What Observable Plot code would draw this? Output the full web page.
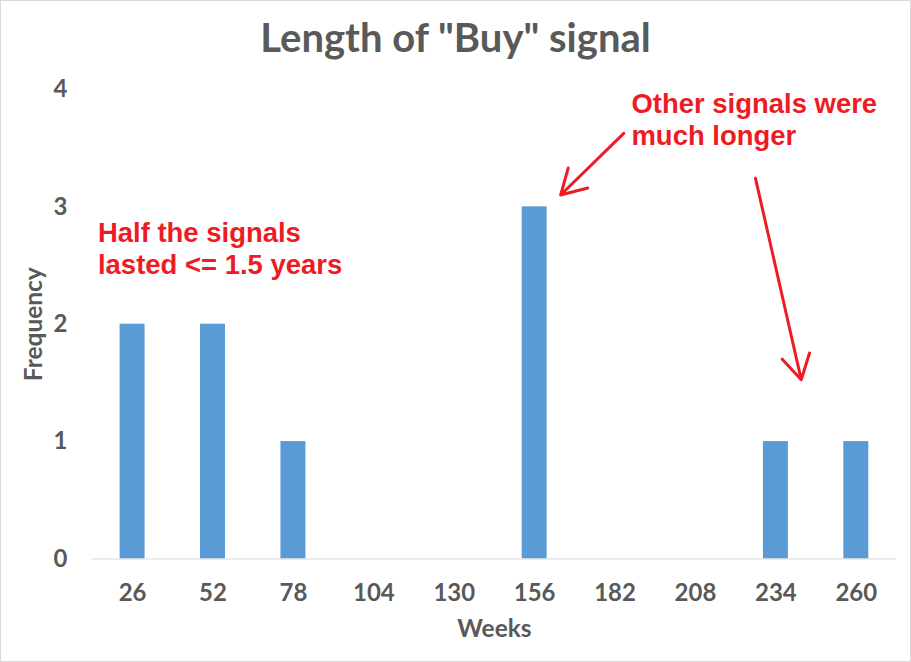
<!DOCTYPE html>
<html>
<head>
<meta charset="utf-8">
<script src="https://cdn.jsdelivr.net/npm/d3@7"></script>
<script src="https://cdn.jsdelivr.net/npm/@observablehq/plot@0.6"></script>
<style>
  html, body { margin: 0; padding: 0; background: #fff; }
  #wrap { position: relative; width: 911px; height: 662px; box-sizing: border-box; border: 1px solid #d9d9d9; background: #fff; overflow: hidden; }
  #title { position: absolute; left: 0; top: 11px; width: 100%; text-align: center; font: bold 40px Lato, "Open Sans", sans-serif; color: #595959; line-height: 50px; }
  #chart { position: absolute; left: -1px; top: 69px; }
</style>
</head>
<body>
<div id="wrap">
  <div id="title">Length of "Buy" signal</div>
  <div id="chart"></div>
</div>
<script>
const weeks = [26, 52, 78, 104, 130, 156, 182, 208, 234, 260];
const frequency = [2, 2, 1, 0, 0, 3, 0, 0, 1, 1];
const yTicks = [0, 1, 2, 3, 4];

const notes = [
  {text: "Half the signals\nlasted <= 1.5 years", w: 14.8, f: 2.65},
  {text: "Other signals were\nmuch longer", w: 187.3, f: 3.75}
];
const arrows = [
  {w1: 184.8, f1: 3.626, w2: 164.4, f2: 3.101},
  {w1: 227.4, f1: 3.243, w2: 242.2, f2: 1.527}
];

const data = weeks.map((w, i) => ({weeks: w, freq: frequency[i]}));
const halfBar = 4.04;
const gray = "#595959";
const red = "#ED1C24";

const chart = Plot.plot({
  width: 911,
  height: 592,
  marginTop: 19,
  marginBottom: 103,
  marginLeft: 92,
  marginRight: 14,
  style: {fontFamily: "Lato, 'Open Sans', sans-serif", background: "transparent", overflow: "visible"},
  x: {type: "linear", domain: [13, 273]},
  y: {domain: [0, 4]},
  marks: [
    Plot.rectY(data, {x1: d => d.weeks - halfBar, x2: d => d.weeks + halfBar, y1: 0, y2: "freq", fill: "#5B9BD5"}),
    Plot.ruleY([0], {stroke: "#d9d9d9", strokeWidth: 1}),
    Plot.axisX({ticks: weeks, tickFormat: d => String(d), tickSize: 0, tickPadding: 25, fontSize: 24, fontWeight: "bold", fill: gray, label: null}),
    Plot.axisY({ticks: yTicks, tickFormat: d => String(d), tickSize: 0, tickPadding: 25, fontSize: 24, fontWeight: "bold", fill: gray, label: null}),
    Plot.text(["Weeks"], {frameAnchor: "bottom", lineAnchor: "middle", textAnchor: "middle", dy: 70, fontSize: 24.5, fontWeight: "bold", fill: gray}),
    Plot.text(["Frequency"], {frameAnchor: "left", textAnchor: "middle", lineAnchor: "middle", dx: -58, rotate: -90, fontSize: 24.5, fontWeight: "bold", fill: gray}),
    Plot.text(notes, {x: "w", y: "f", text: "text", textAnchor: "start", lineAnchor: "middle", lineHeight: 1.16, fontSize: 27.5, fontWeight: "bold", fill: red, fontFamily: "'Liberation Sans', Arial, sans-serif"}),
    Plot.arrow(arrows, {x1: "w1", y1: "f1", x2: "w2", y2: "f2", stroke: red, strokeWidth: 3, headLength: 14, bend: 0})
  ]
});
document.getElementById("chart").appendChild(chart);
</script>
</body>
</html>
